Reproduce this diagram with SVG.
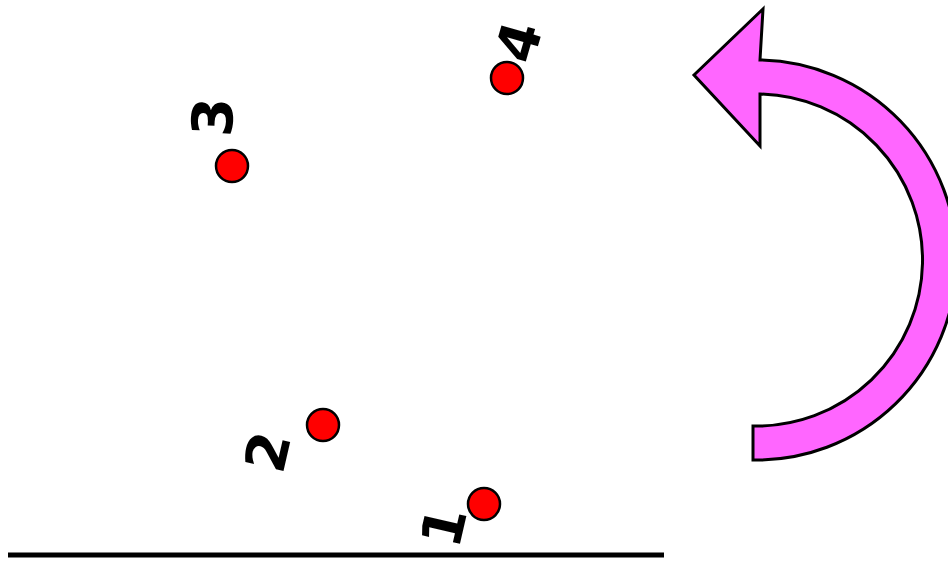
<svg xmlns="http://www.w3.org/2000/svg" width="948" height="561" viewBox="0 0 948 561">
<style>
.dot{fill:#ff0000;stroke:#000;stroke-width:2.5}
.lbl{font-family:"DejaVu Sans",sans-serif;font-size:56px;font-weight:bold;fill:#000;text-anchor:middle;dominant-baseline:central}
</style>
<rect width="948" height="561" fill="#fff"/>
<g id="ground"><line x1="8" y1="555" x2="664" y2="555" stroke="#000" stroke-width="5"/></g>
<g id="arrow"><path d="M 753 460 A 200 200 0 0 0 760 60 L 763 9 L 694 75 L 760 146 L 760 94 A 166 166 0 0 1 753 426 Z" fill="#ff66ff" stroke="#000" stroke-width="3" stroke-linejoin="miter"/></g>
<g id="p1"><circle class="dot" cx="484" cy="504" r="16"/><text class="lbl" transform="translate(444,527) rotate(-77)">1</text></g>
<g id="p2"><circle class="dot" cx="323" cy="425" r="16"/><text class="lbl" transform="translate(268,452) rotate(-77)">2</text></g>
<g id="p3"><circle class="dot" cx="232" cy="166" r="16"/><text class="lbl" transform="translate(213,117) rotate(-87)">3</text></g>
<g id="p4"><circle class="dot" cx="507" cy="78" r="16"/><text class="lbl" transform="translate(519,42) rotate(-74)">4</text></g>
</svg>
